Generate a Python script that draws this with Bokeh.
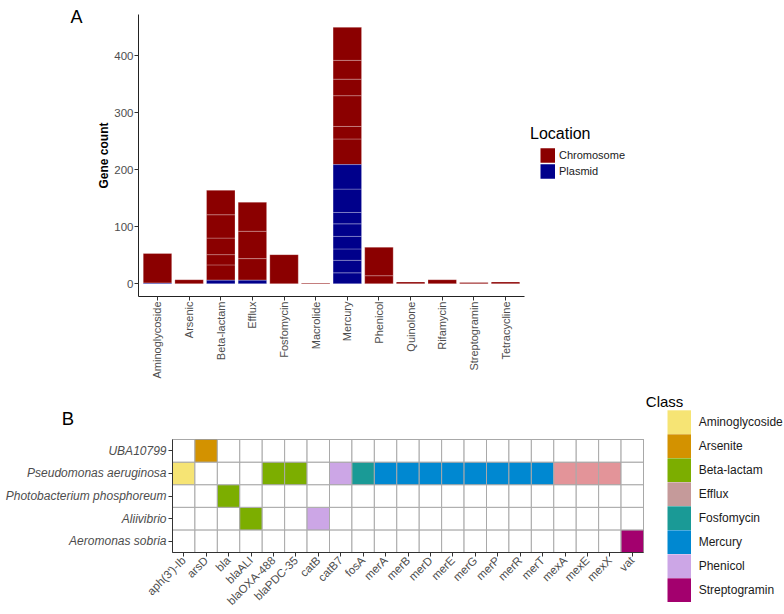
import numpy as np
from bokeh.plotting import figure
from bokeh.models import (ColumnDataSource, FactorRange, Range1d, FixedTicker,
                          Legend, LegendItem, Label)
from bokeh.layouts import column, row
from bokeh.embed import file_html
from bokeh.resources import INLINE

FONT = "Liberation Sans"
TICK_TXT = "#4D4D4D"

# ---------------- Panel A data ----------------
arg_classes = ["Aminoglycoside", "Arsenic", "Beta-lactam", "Efflux", "Fosfomycin",
               "Macrolide", "Mercury", "Phenicol", "Quinolone", "Rifamycin",
               "Streptogramin", "Tetracycline"]
locations = ["Chromosome", "Plasmid"]
location_colors = ["#8B0000", "#00008B"]
# gene-level stacked segments, bottom -> top
plasmid_segments = {
    "Aminoglycoside": [1],
    "Beta-lactam": [6],
    "Efflux": [6],
    "Mercury": [19, 22, 20, 22, 22, 20, 41, 43],
}
chromosome_segments = {
    "Aminoglycoside": [52],
    "Arsenic": [7],
    "Beta-lactam": [27, 18, 29, 41, 43],
    "Efflux": [38, 48, 51],
    "Fosfomycin": [51],
    "Macrolide": [1],
    "Mercury": [45, 22, 54, 29, 33, 58],
    "Phenicol": [14, 50],
    "Quinolone": [3],
    "Rifamycin": [7],
    "Streptogramin": [2],
    "Tetracycline": [3],
}
y_ticks_a = [0, 100, 200, 300, 400]

# ---------------- Panel B data ----------------
genes = ["aph(3')-Ib", "arsD", "bla", "blaALI", "blaOXA-488", "blaPDC-35", "catB",
         "catB7", "fosA", "merA", "merB", "merD", "merE", "merG", "merP", "merR",
         "merT", "mexA", "mexE", "mexX", "vat"]
gene_class = ["Aminoglycoside", "Arsenite", "Beta-lactam", "Beta-lactam", "Beta-lactam",
              "Beta-lactam", "Phenicol", "Phenicol", "Fosfomycin", "Mercury", "Mercury",
              "Mercury", "Mercury", "Mercury", "Mercury", "Mercury", "Mercury",
              "Efflux", "Efflux", "Efflux", "Streptogramin"]
species = ["Aeromonas sobria", "Aliivibrio", "Photobacterium phosphoreum",
           "Pseudomonas aeruginosa", "UBA10799"]  # bottom -> top
presence = {
    "UBA10799": ["arsD"],
    "Pseudomonas aeruginosa": ["aph(3')-Ib", "blaOXA-488", "blaPDC-35", "catB7", "fosA",
                               "merA", "merB", "merD", "merE", "merG", "merP", "merR",
                               "merT", "mexA", "mexE", "mexX"],
    "Photobacterium phosphoreum": ["bla"],
    "Aliivibrio": ["blaALI", "catB"],
    "Aeromonas sobria": ["vat"],
}
class_names = ["Aminoglycoside", "Arsenite", "Beta-lactam", "Efflux", "Fosfomycin",
               "Mercury", "Phenicol", "Streptogramin"]
class_tile_colors = ["#F6E474", "#D39200", "#7CAE00", "#E39499", "#1A9A96",
                     "#0088D1", "#CCA6E6", "#A3006E"]
class_key_colors = ["#F6E474", "#D39200", "#7CAE00", "#C59A9A", "#1A9A96",
                    "#0088D1", "#CCA6E6", "#A3006E"]

TOP_H = 384


def text_fig(w, h):
    f = figure(width=w, height=h, x_range=Range1d(0, w), y_range=Range1d(0, h),
               x_axis_type=None, y_axis_type=None, output_backend="svg",
               toolbar_location=None, min_border=0, min_border_left=0,
               min_border_right=0, min_border_top=0, min_border_bottom=0)
    f.outline_line_color = None
    f.grid.visible = False
    f.background_fill_color = "white"
    f.border_fill_color = "white"
    f.frame_align = False
    return f


# =============== Panel A ===============
p1 = figure(width=434, height=TOP_H,
            x_range=FactorRange(factors=arg_classes, range_padding=0.1,
                                range_padding_units="absolute"),
            y_range=Range1d(-22.5, 472.5),
            output_backend="svg", toolbar_location=None,
            min_border_left=46, min_border_right=2,
            min_border_top=14, min_border_bottom=TOP_H - 296)
p1.frame_align = False
p1.outline_line_color = None
p1.grid.visible = False
p1.background_fill_color = "white"
p1.border_fill_color = "white"

for loc, col in zip(locations, location_colors):
    segs = plasmid_segments if loc == "Plasmid" else chromosome_segments
    xs, bots, tops = [], [], []
    for c in arg_classes:
        base = 0 if loc == "Plasmid" else sum(plasmid_segments.get(c, []))
        for v in segs.get(c, []):
            xs.append(c)
            bots.append(base)
            tops.append(base + v)
            base += v
    src = ColumnDataSource(dict(x=xs, bottom=bots, top=tops))
    p1.vbar(x="x", bottom="bottom", top="top", width=0.9, source=src,
            fill_color=col, line_color="white", line_alpha=0.25, line_width=1)

p1.yaxis.ticker = FixedTicker(ticks=y_ticks_a)
p1.yaxis.axis_label = "Gene count"
p1.yaxis.axis_label_text_font = FONT
p1.yaxis.axis_label_text_font_style = "bold"
p1.yaxis.axis_label_text_font_size = "12px"
p1.yaxis.axis_label_text_color = "black"
p1.yaxis.axis_label_standoff = 0
for ax in (p1.xaxis[0], p1.yaxis[0]):
    ax.axis_line_color = "#222222"
    ax.axis_line_width = 1
    ax.major_tick_line_color = "#333333"
    ax.major_tick_out = 4
    ax.major_tick_in = 0
    ax.minor_tick_out = 0
    ax.minor_tick_in = 0
    ax.major_label_text_font = FONT
    ax.major_label_text_color = TICK_TXT
    ax.major_label_standoff = 1
p1.yaxis.major_label_text_font_size = "11.5px"
p1.xaxis.major_label_text_font_size = "11px"
p1.xaxis.major_label_orientation = np.pi / 2

# "A" label
figA = text_fig(92, TOP_H)
figA.add_layout(Label(x=70, y=TOP_H - 16.5, x_units="screen", y_units="screen", text="A",
                      text_font=FONT, text_font_size="18px", text_color="black",
                      text_baseline="alphabetic"))

# Location legend
figLA = text_fig(258, TOP_H)
items_a = []
for loc, col in zip(locations, location_colors):
    r = figLA.line(x=[-1000, -999], y=[-1000, -1000], line_color=col,
                   line_width=14.5, line_cap="butt")
    items_a.append(LegendItem(label=loc, renderers=[r]))
leg_a = Legend(items=items_a, location=(14, TOP_H - 178.5), orientation="vertical",
               glyph_width=15, glyph_height=16, spacing=0, padding=0, margin=0,
               label_standoff=4, label_height=10, label_text_font=FONT,
               label_text_font_size="11px", label_text_color="#1a1a1a",
               border_line_color=None, background_fill_alpha=0)
figLA.add_layout(leg_a)
figLA.add_layout(Label(x=3.5, y=TOP_H - 132.5, x_units="screen", y_units="screen",
                       text="Location", text_font=FONT, text_font_size="16px",
                       text_color="black", text_baseline="alphabetic"))

# =============== Panel B ===============
p2 = figure(width=644, height=176,
            x_range=FactorRange(factors=genes, range_padding=0),
            y_range=FactorRange(factors=species, range_padding=0),
            output_backend="svg", toolbar_location=None,
            min_border_left=172, min_border_right=1,
            min_border_top=1, min_border_bottom=62)
p2.frame_align = False
p2.grid.visible = False
p2.outline_line_color = "#8A8A8A"
p2.outline_line_width = 1
p2.background_fill_color = "white"
p2.border_fill_color = "white"

cls_color = dict(zip(class_names, class_tile_colors))
g_class = dict(zip(genes, gene_class))
tx, ty, tc = [], [], []
for sp in species:
    for g in genes:
        tx.append(g)
        ty.append(sp)
        tc.append(cls_color[g_class[g]] if g in presence[sp] else "white")
tiles = ColumnDataSource(dict(x=tx, y=ty, color=tc))
p2.rect(x="x", y="y", width=1, height=1, source=tiles, fill_color="color",
        line_color="#A9A9A9", line_width=1)

for ax in (p2.xaxis[0], p2.yaxis[0]):
    ax.axis_line_color = "#333333"
    ax.axis_line_width = 1
    ax.major_tick_line_color = "#333333"
    ax.major_tick_out = 4
    ax.major_tick_in = 0
    ax.major_label_text_font = FONT
    ax.major_label_text_color = TICK_TXT
    ax.major_label_standoff = 2
p2.yaxis.major_label_text_font_size = "12px"
p2.yaxis.major_label_text_font_style = "italic"
p2.xaxis.major_label_text_font_size = "11.5px"
p2.xaxis.major_label_orientation = np.pi / 4

B_H = 438 - TOP_H
figB = text_fig(644, B_H)
figB.add_layout(Label(x=61.3, y=438 - 418.3, x_units="screen", y_units="screen", text="B",
                      text_font=FONT, text_font_size="18.5px", text_color="black",
                      text_baseline="alphabetic"))

LB_H = 614 - TOP_H
figLB = text_fig(140, LB_H)
items_b = []
for name, kc in zip(class_names, class_key_colors):
    r = figLB.line(x=[-1000, -999], y=[-1000, -1000], line_color=kc,
                   line_width=24.4, line_cap="butt")
    items_b.append(LegendItem(label=name, renderers=[r]))
leg_b = Legend(items=items_b, location=(22.7, 12), orientation="vertical",
               glyph_width=24, glyph_height=24, spacing=0, padding=0, margin=0,
               label_standoff=8, label_height=10, label_text_font=FONT,
               label_text_font_size="12px", label_text_color="#1a1a1a",
               border_line_color=None, background_fill_alpha=0)
figLB.add_layout(leg_b)
figLB.add_layout(Label(x=1.3, y=614 - 400.7, x_units="screen", y_units="screen",
                       text="Class", text_font=FONT, text_font_size="15px",
                       text_color="black", text_baseline="alphabetic"))

top = row(figA, p1, figLA, spacing=0)
bottom = row(column(figB, p2, spacing=0), figLB, spacing=0)
layout = column(top, bottom, spacing=0)
open("out.html", "w").write(file_html(layout, INLINE))
